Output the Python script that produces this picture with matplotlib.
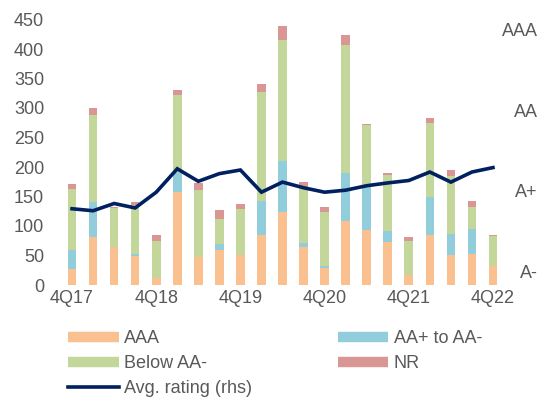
import numpy as np
import matplotlib
matplotlib.use("Agg")
import matplotlib.pyplot as plt
from matplotlib.lines import Line2D

plt.rcParams['font.family'] = ['Liberation Sans', 'DejaVu Sans']

# quarterly data, 4Q17 .. 4Q22
quarters = ['4Q17', '1Q18', '2Q18', '3Q18', '4Q18', '1Q19', '2Q19', '3Q19',
            '4Q19', '1Q20', '2Q20', '3Q20', '4Q20', '1Q21', '2Q21', '3Q21',
            '4Q21', '1Q22', '2Q22', '3Q22', '4Q22']
aaa = [27, 81, 65, 49, 12, 158, 47, 60, 51, 84, 124, 64, 29, 108, 93, 73, 17, 85, 51, 52, 33]
aa = [32, 60, 0, 4, 0, 31, 0, 9, 0, 58, 87, 8, 3, 81, 75, 19, 0, 65, 35, 43, 0]
below_aa = [103, 147, 66, 82, 63, 133, 114, 43, 78, 185, 204, 93, 91, 217, 103, 94, 58, 125, 98, 37, 50]
nr = [10, 12, 2, 6, 9, 9, 12, 15, 8, 13, 24, 10, 10, 18, 2, 3, 7, 8, 11, 10, 1]
# avg rating on a notch scale: A-=1, A=2, A+=3, AA-=4, AA=5, AA+=6, AAA=7
avg_rating = [2.56, 2.51, 2.69, 2.58, 2.97, 3.55, 3.24, 3.43, 3.52, 2.97, 3.22,
              3.08, 2.97, 3.02, 3.13, 3.20, 3.26, 3.47, 3.22, 3.47, 3.58]
rhs_ticks = [1, 3, 5, 7]
rhs_labels = ['A-', 'A+', 'AA', 'AAA']

c_aaa = '#FAC090'
c_aa = '#92CDDC'
c_below = '#C4D79B'
c_nr = '#DA9694'
c_line = '#002060'
c_text = '#595959'

x = np.arange(len(quarters))
aaa = np.array(aaa)
aa = np.array(aa)
below_aa = np.array(below_aa)
nr = np.array(nr)

fig = plt.figure(figsize=(5.4, 4.0), dpi=100)
ax = fig.add_axes([0.1139, 0.2875, 0.9324 - 0.1139, 0.95125 - 0.2875])

w = 0.41
ax.bar(x, aaa, w, color=c_aaa)
ax.bar(x, aa, w, bottom=aaa, color=c_aa)
ax.bar(x, below_aa, w, bottom=aaa + aa, color=c_below)
ax.bar(x, nr, w, bottom=aaa + aa + below_aa, color=c_nr)

ax.set_xlim(-0.5, len(quarters) - 0.5)
ax.set_ylim(0, 450)
ax.set_yticks(range(0, 451, 50))
ax.set_xticks(x[::4], [quarters[i] for i in x[::4]])
ax.tick_params(axis='both', length=0, labelsize=13, colors=c_text)
ax.tick_params(axis='y', pad=12.5)
ax.tick_params(axis='x', pad=3.5)
for s in ax.spines.values():
    s.set_visible(False)

ax2 = ax.twinx()
ax2.plot(x, avg_rating, color=c_line, lw=2.6, solid_joinstyle='miter')
ax2.set_ylim(0.67, 7.25)
ax2.set_yticks(rhs_ticks, rhs_labels)
ax2.tick_params(axis='y', length=0, labelsize=13, colors=c_text, pad=24.5)
for lab in ax2.get_yticklabels():
    lab.set_horizontalalignment('right')
for s in ax2.spines.values():
    s.set_visible(False)

handles = [
    Line2D([], [], color=c_aaa, lw=7.5, solid_capstyle='butt'),
    Line2D([], [], color=c_below, lw=7.5, solid_capstyle='butt'),
    Line2D([], [], color=c_line, lw=2.6),
    Line2D([], [], color=c_aa, lw=7.5, solid_capstyle='butt'),
    Line2D([], [], color=c_nr, lw=7.5, solid_capstyle='butt'),
]
labels = ['AAA', 'Below AA-', 'Avg. rating (rhs)', 'AA+ to AA-', 'NR']
leg = fig.legend(handles, labels, loc='upper left', bbox_to_anchor=(68 / 540, 1 - 330 / 400),
                 ncol=2, frameon=False, fontsize=13, handlelength=2.8, handletextpad=0.3,
                 columnspacing=4.75, labelspacing=0.45, borderpad=0, borderaxespad=0)
for t in leg.get_texts():
    t.set_color(c_text)

fig.savefig('out.png', dpi=100)
